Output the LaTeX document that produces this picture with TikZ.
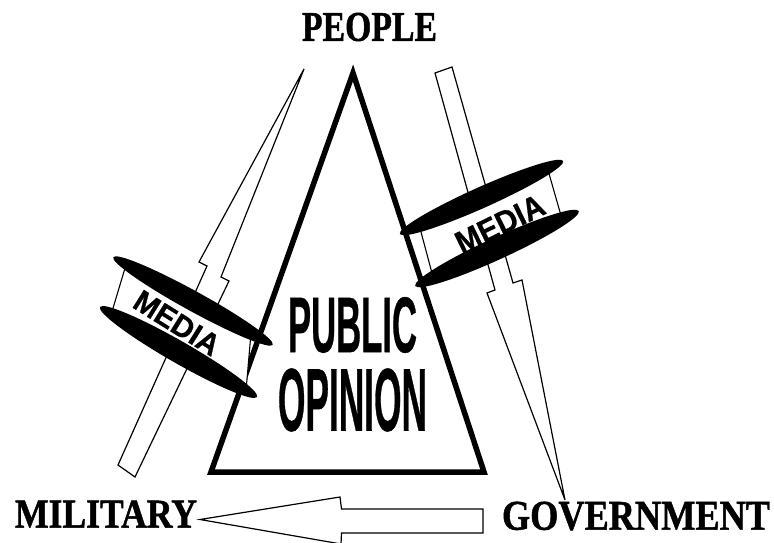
\documentclass[tikz,border=0pt]{standalone}
\usepackage{fontspec}
\setmainfont{Liberation Serif}
\setsansfont{Liberation Sans}
\newfontfamily\labelfont[FakeBold=1.2]{Liberation Serif}
\newfontfamily\heavysans[FakeBold=0.8]{Liberation Sans}
\usepackage{graphicx}
\begin{document}
\begin{tikzpicture}[x=1pt,y=-1pt,
  arrowshape/.style={draw=black, line width=1.2pt, fill=white, line join=miter},
  bandfill/.style={fill=white},
  bandside/.style={draw=black, line width=1.1pt},
  disc/.style={fill=black},
  tri/.style={draw=black, line width=5.5pt, line join=miter},
  lbl/.style={inner sep=0pt, font=\labelfont\bfseries},
  media/.style={inner sep=0pt, font=\heavysans\bfseries},
]
\useasboundingbox (0,0) rectangle (774,543);

% triangle
\coordinate (apex) at (353,73);
\coordinate (bl) at (211,472);
\coordinate (br) at (484,472);
\draw[tri] (apex) -- (br) -- (bl) -- cycle;

% arrows
\draw[arrowshape] (304,69) -- (199,262) -- (207,266) -- (118,465) -- (135,477) -- (229,281) -- (221,277) -- cycle;
\draw[arrowshape] (435,73) -- (452,67) -- (513,283) -- (522,280) -- (565,500) -- (487,293) -- (495,290) -- cycle;
\draw[arrowshape] (200,519.5) -- (340,497) -- (341.5,509) -- (483,509) -- (483,533) -- (341.5,533) -- (341,544) -- cycle;

% left media band
\fill[bandfill] (126.2,264.2) -- (111.4,313.5) -- (246,390.7) -- (251,333) -- cycle;
\draw[bandside] (126.2,264.2) -- (111.4,313.5);
\draw[bandside] (251,333) -- (246,390.7);
\fill[disc, rotate around={-28.8:(193,301)}] (193,301) ellipse [x radius=91, y radius=10];
\fill[disc, rotate around={-29.8:(178.5,352)}] (178.5,352) ellipse [x radius=90.5, y radius=11];
\node[media, rotate=-32] (medialeft) at (177,323) {\resizebox{95pt}{21pt}{MEDIA}};

% right media band
\fill[bandfill] (419,224.5) -- (433.3,278) -- (562,219) -- (547.4,168) -- cycle;
\draw[bandside] (419,224.5) -- (433.3,278);
\draw[bandside] (547.4,168) -- (562,219);
\fill[disc, rotate around={24.1:(481.5,197.5)}] (481.5,197.5) ellipse [x radius=89.5, y radius=10.5];
\fill[disc, rotate around={24.6:(497,248.5)}] (497,248.5) ellipse [x radius=90, y radius=11];
\node[media, rotate=26] (mediaright) at (500,224) {\resizebox{95pt}{22pt}{MEDIA}};

% public opinion
\node[media] (public) at (352.5,325) {\resizebox{129pt}{55pt}{PUBLIC}};
\node[media] (opinion) at (352.5,400) {\resizebox{149pt}{62pt}{OPINION}};

% labels
\node[lbl] (people) at (369.5,27) {\resizebox{135pt}{28pt}{PEOPLE}};
\node[lbl] (military) at (106,514) {\resizebox{182pt}{27pt}{MILITARY}};
\node[lbl] (government) at (636,516) {\resizebox{268pt}{28pt}{GOVERNMENT}};
\end{tikzpicture}
\end{document}
